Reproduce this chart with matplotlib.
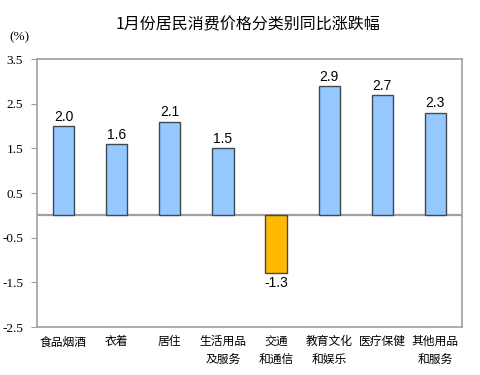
import numpy as np
import matplotlib.pyplot as plt

plt.rcParams['font.family'] = ['Noto Sans CJK SC', 'DejaVu Sans']

categories = ['食品烟酒', '衣着', '居住', '生活用品\n及服务', '交通\n和通信',
              '教育文化\n和娱乐', '医疗保健', '其他用品\n和服务']
values = [2.0, 1.6, 2.1, 1.5, -1.3, 2.9, 2.7, 2.3]
yticks = [3.5, 2.5, 1.5, 0.5, -0.5, -1.5, -2.5]

fig = plt.figure(figsize=(4.81, 3.75), dpi=100)
ax = fig.add_axes([37/481, 1 - 327/375, (462-37)/481, (327-59)/375])

x = np.arange(len(values))
colors = ['#FFB900' if v < 0 else '#94C8FF' for v in values]
ax.bar(x, values, width=0.4, color=colors, edgecolor='#404850', linewidth=1.0, zorder=3)
ax.axhline(0, color='#A0A0A0', linewidth=1.6, zorder=2)

for xi, v in zip(x, values):
    if v >= 0:
        ax.text(xi, v + 0.05, f'{v:.1f}', ha='center', va='bottom', fontsize=10,
                family='Liberation Sans', zorder=4)
    else:
        ax.text(xi, v - 0.05, f'{v:.1f}', ha='center', va='top', fontsize=10,
                family='Liberation Sans', zorder=4)

ax.set_xlim(-0.5, len(values) - 0.5)
ax.set_ylim(-2.5, 3.5)
ax.set_yticks(yticks)
ax.set_yticklabels([f'{t:.1f}' for t in yticks], family='Liberation Serif', fontsize=9.5)
ax.tick_params(axis='y', length=4, color='#A0A0A0', pad=6)
ax.set_xticks(x)
ax.set_xticklabels(categories, fontsize=8.5, linespacing=1.5, va='top')
ax.tick_params(axis='x', length=0, pad=6)
for s in ax.spines.values():
    s.set_color('#A0A0A0')
    s.set_linewidth(1.2)

fig.text(248/481, 1 - 25/375, '1月份居民消费价格分类别同比涨跌幅', ha='center', va='center',
         fontsize=11.5)
fig.text(19/481, 1 - 37/375, '(%)', ha='center', va='center', family='Liberation Serif',
         fontsize=9.5)

fig.savefig('out.png', dpi=100)
